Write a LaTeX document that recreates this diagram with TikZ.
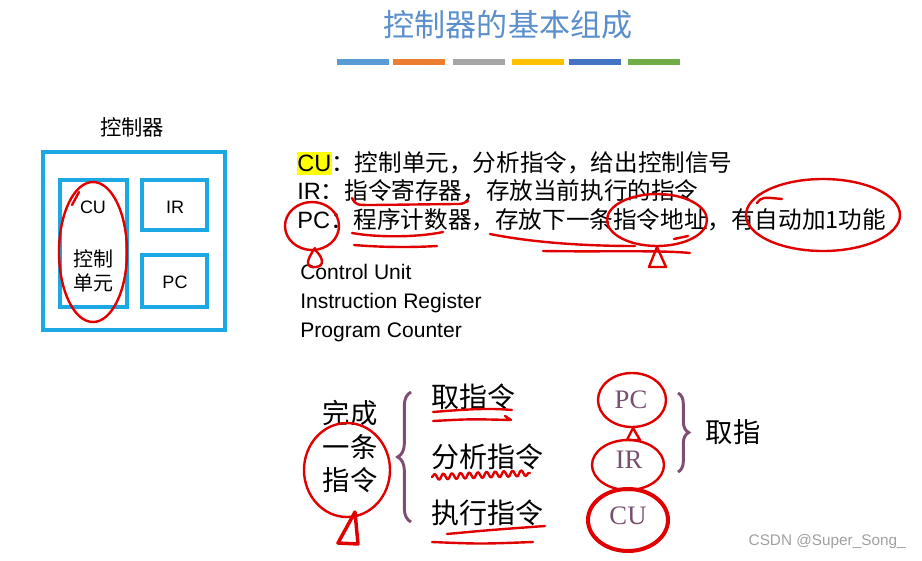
\documentclass[tikz,border=0pt]{standalone}
\usepackage{fontspec}
\setmainfont{Liberation Sans}
\newfontfamily\cjk{Noto Sans CJK SC}
\newfontfamily\serifrm{Liberation Serif}
\usetikzlibrary{decorations.pathreplacing,decorations.pathmorphing}
\definecolor{titleblue}{HTML}{5B8FCB}
\definecolor{boxcyan}{HTML}{1CA8E2}
\definecolor{bracepurple}{HTML}{7E4D72}
\definecolor{textpurple}{HTML}{76506F}
\definecolor{penred}{HTML}{E00000}
\definecolor{hl}{HTML}{FFFF00}
\definecolor{wm}{HTML}{A0A0A0}
\definecolor{barA}{HTML}{5B9BD5}
\definecolor{barB}{HTML}{ED7D31}
\definecolor{barC}{HTML}{A5A5A5}
\definecolor{barD}{HTML}{FFC000}
\definecolor{barE}{HTML}{4472C4}
\definecolor{barF}{HTML}{70AD47}
\begin{document}
\begin{tikzpicture}[x=0.75pt,y=-0.75pt,
  cbox/.style={draw=boxcyan,line width=2.4pt,inner sep=0pt},
  pen/.style={draw=penred,line width=1.8pt,line cap=round,line join=round},
  thickpen/.style={pen,line width=3pt},
  brc/.style={draw=bracepurple,line width=2.2pt,decorate,decoration={brace,amplitude=8pt}},
  linetxt/.style={anchor=west,inner sep=0pt,font=\cjk\fontsize{17.7}{20}\selectfont},
  engtxt/.style={anchor=west,inner sep=0pt,text height=11pt,text depth=0pt,font=\fontsize{15.8}{18}\selectfont},
  boxtxt/.style={inner sep=0pt,font=\fontsize{13.5}{15}\selectfont},
  boxcjk/.style={inner sep=0pt,font=\cjk\fontsize{15}{17}\selectfont},
  bigcjk/.style={inner sep=0pt,font=\cjk\fontsize{20.5}{22}\selectfont},
  regtxt/.style={inner sep=0pt,text=textpurple,font=\serifrm\fontsize{20}{22}\selectfont}]
\useasboundingbox (0,0) rectangle (922,561);

% title and bars
\node[inner sep=0pt,text=titleblue,font=\cjk\fontsize{23.3}{25}\selectfont] (title) at (508,25) {控制器的基本组成};
\foreach \xa/\cl in {337/barA,393/barB,453/barC,512/barD,569/barE,628/barF}
  \fill[\cl] (\xa,59) rectangle ++(52,6);

% left block
\node[inner sep=0pt,font=\cjk\fontsize{16}{18}\selectfont] (ctltitle) at (132,127) {控制器};
\node[cbox,minimum width=136.5pt,minimum height=133.5pt] (outer) at (134,241) {};
\node[cbox,minimum width=50.25pt,minimum height=95.25pt] (cubox) at (93.5,243.5) {};
\node[cbox,minimum width=48.75pt,minimum height=37.5pt] (irbox) at (174.5,205) {};
\node[cbox,minimum width=48.75pt,minimum height=39pt] (pcbox) at (174.5,281) {};
\node[boxtxt] (cut) at (93,207) {CU};
\node[boxcjk] (cuc1) at (93,259) {控制};
\node[boxcjk] (cuc2) at (93,283) {单元};
\node[boxtxt] (irt) at (175,207) {IR};
\node[boxtxt] (pct) at (175,282) {PC};

% description lines
\fill[hl] (297,152) rectangle (332,175);
\node[linetxt] (l1) at (297,163) {{\rmfamily CU}：控制单元，分析指令，给出控制信号};
\node[linetxt] (l2) at (297,191) {{\rmfamily IR}：指令寄存器，存放当前执行的指令};
\node[linetxt] (l3) at (297,220) {{\rmfamily PC}：程序计数器，存放下一条指令地址，有自动加1功能};
\node[engtxt] (e1) at (300,272) {Control Unit};
\node[engtxt] (e2) at (300,301) {Instruction Register};
\node[engtxt] (e3) at (300,330) {Program Counter};

% bottom left
\node[bigcjk] (w1) at (350,413) {完成};
\node[bigcjk] (w2) at (350,447) {一条};
\node[bigcjk] (w3) at (350,480) {指令};
\coordinate (bl1) at (411,522);
\coordinate (bl2) at (411,392);
\draw[brc,decoration={amplitude=10pt}] (bl1) -- (bl2);
\node[bigcjk,anchor=west,font=\cjk\fontsize{21}{23}\selectfont] (fetch) at (431,397) {取指令};
\node[bigcjk,anchor=west,font=\cjk\fontsize{21}{23}\selectfont] (decode) at (431,457) {分析指令};
\node[bigcjk,anchor=west,font=\cjk\fontsize{21}{23}\selectfont] (exec) at (431,513) {执行指令};

% bottom right
\node[regtxt] (rpc) at (631,400) {PC};
\node[regtxt] (rir) at (629,460) {IR};
\node[regtxt] (rcu) at (628,516) {CU};
\coordinate (br1) at (678,393);
\coordinate (br2) at (678,472);
\draw[brc] (br1) -- (br2);
\node[bigcjk] (qz) at (733,432) {取指};
\node[anchor=east,inner sep=0pt,text=wm,font=\fontsize{11.5}{13}\selectfont] (wmk) at (906,542) {CSDN @Super\_Song\_};

% red pen annotations
\draw[pen] (93,252) ellipse [x radius=34, y radius=70];
\draw[pen] (72,205) -- (79,192);
\draw[pen] (312,226) ellipse [x radius=27, y radius=24];
\draw[pen] (315,248) .. controls (305,262) and (306,268) .. (316,267) .. controls (326,266) and (322,256) .. (315,250);
\draw[pen] (352,198) .. controls (356,205) .. (372,205) -- (455,204) .. controls (462,204) .. (468,201);
\draw[pen] (352,233) .. controls (380,238) and (420,237) .. (443,232);
\draw[pen] (354,245) .. controls (390,248) and (420,247) .. (437,246);
\draw[pen] (490,234) .. controls (530,242) and (580,246) .. (635,246);
\draw[pen] (543,251) .. controls (600,252) and (660,250) .. (690,253);
\draw[pen] (657,220) ellipse [x radius=50, y radius=26];
\draw[pen] (674,239) -- (688,236);
\draw[pen] (657,247) -- (649,267) -- (666,267) -- cycle;
\draw[pen] (823,215) ellipse [x radius=77, y radius=36];
\draw[pen] (757,203) .. controls (762,197) .. (782,199);

\draw[pen] (433,412) .. controls (470,409) and (490,408) .. (512,410);
\draw[pen] (433,421) .. controls (470,419) .. (511,420) -- (505,416);
\draw[pen,decorate,decoration={snake,segment length=6.5pt,amplitude=2.2pt}] (432,477) -- (530,473);
\draw[pen] (447,534) .. controls (490,530) .. (545,526);
\draw[pen] (432,542) .. controls (480,544) .. (533,542);
\draw[pen] (347,470) ellipse [x radius=43, y radius=47];
\draw[pen,line width=2.6pt] (355,512) -- (338,543) -- (358,544) -- cycle;

\draw[pen] (632,400) ellipse [x radius=34, y radius=27];
\draw[pen] (628,465) ellipse [x radius=36, y radius=25];
\draw[thickpen] (628,520) ellipse [x radius=40, y radius=31];
\draw[pen] (633,428) -- (627,440) -- (640,440) -- cycle;
\end{tikzpicture}
\end{document}
